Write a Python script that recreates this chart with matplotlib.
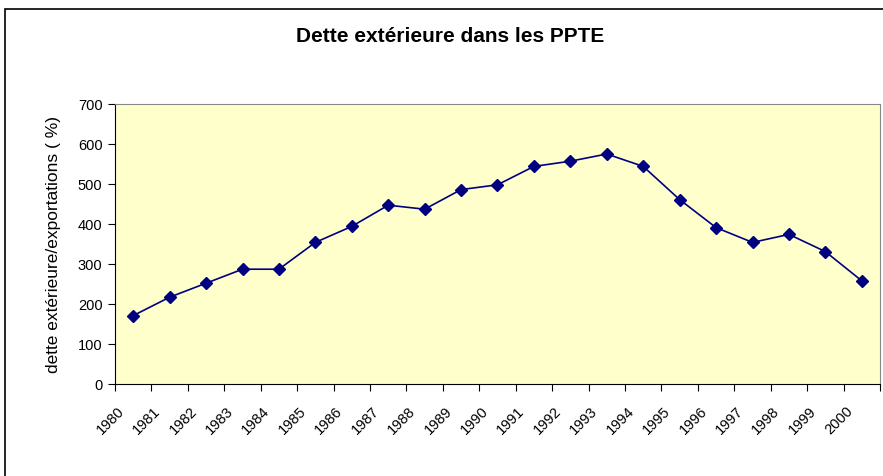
import numpy as np
import matplotlib.pyplot as plt
from matplotlib.patches import Rectangle

plt.rcParams['font.family'] = ['Liberation Sans', 'DejaVu Sans']

annees = [str(a) for a in range(1980, 2001)]
dette = [171, 217, 252, 287, 287, 354, 394, 447, 437, 486, 498,
         544, 557, 575, 544, 461, 391, 354, 374, 331, 258]

fig = plt.figure(figsize=(8.83, 4.77), dpi=100)
ax = fig.add_axes([115/883, 92/477, 765/883, 280/477])

# cadre du graphique
fig.patches.append(Rectangle((5/883, -0.1), 1.2, 1.1 - 10/477,
                             transform=fig.transFigure, fill=False,
                             edgecolor='black', linewidth=1.2))

x = np.arange(len(annees))
ax.set_facecolor('#FFFFCC')
ax.plot(x, dette, color='#000080', linewidth=1.2, marker='D',
        markersize=6.5, markerfacecolor='#000080', markeredgecolor='#000080')

ax.set_xlim(-0.5, len(annees) - 0.5)
ax.set_ylim(0, 700)
ax.set_yticks(np.arange(0, 701, 100))
ax.tick_params(axis='y', labelsize=10.5, length=5, direction='out', pad=4)

# graduations entre les catégories, étiquettes décalées
ax.set_xticks(np.arange(-0.5, len(annees), 1))
ax.set_xticklabels([])
ax.set_xticks(x - 0.45, minor=True)
ax.set_xticklabels(annees, minor=True, rotation=45, ha='right',
                   rotation_mode='anchor', fontsize=10.5)
ax.tick_params(axis='x', which='major', length=5, direction='out')
ax.tick_params(axis='x', which='minor', length=0, pad=14)

for s in ['top', 'right']:
    ax.spines[s].set_color('#888888')
    ax.spines[s].set_linewidth(0.8)
for s in ['left', 'bottom']:
    ax.spines[s].set_color('black')

ax.set_ylabel('dette extérieure/exportations ( %)', fontsize=12.5, labelpad=12)
fig.text(0.51, 1 - 37/477, 'Dette extérieure dans les PPTE', ha='center',
         va='center', fontsize=15, fontweight='bold')

fig.savefig('out.png', dpi=100)
